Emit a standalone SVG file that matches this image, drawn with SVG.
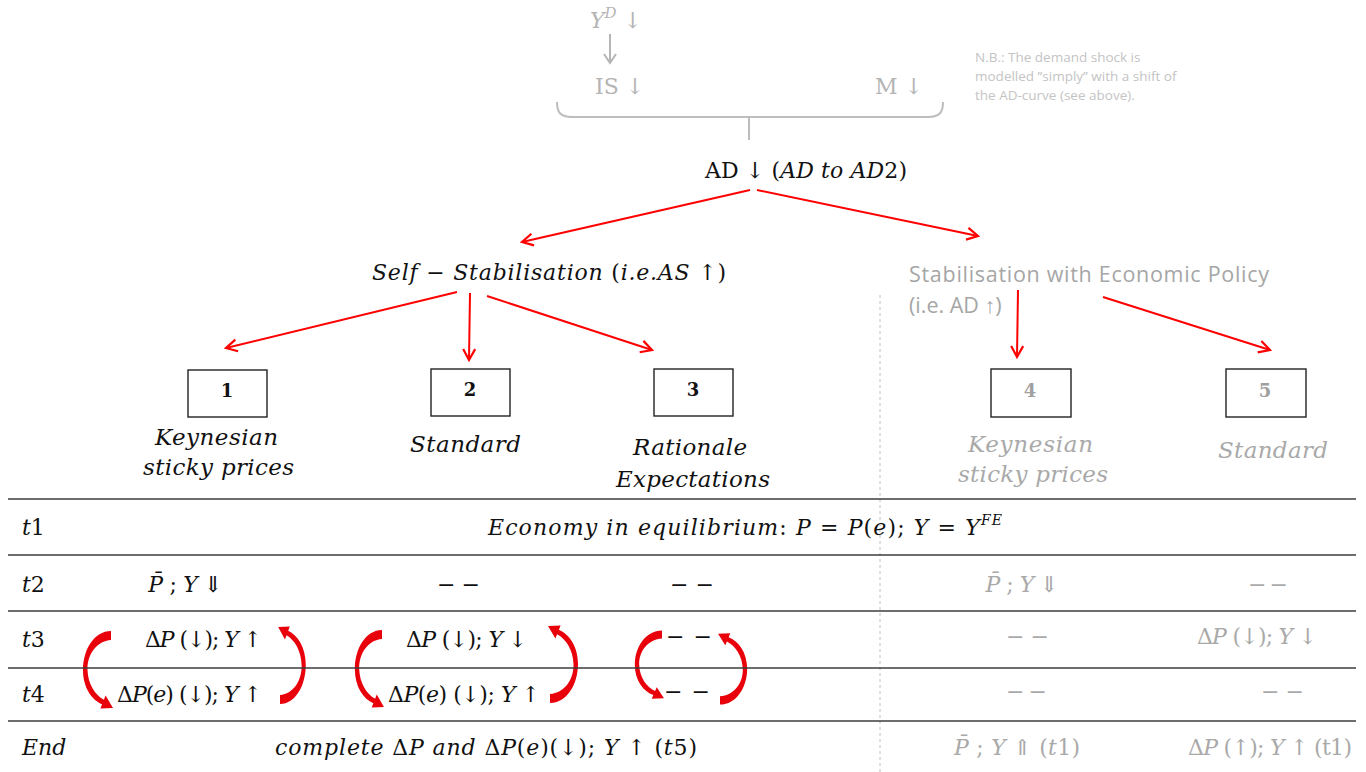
<svg xmlns="http://www.w3.org/2000/svg" width="1366" height="772" viewBox="0 0 1366 772">
<style>
  .m { font-family: "DejaVu Serif", "Liberation Serif", serif; font-size: 22px; fill: #111; }
  .i { font-style: italic; }
  .hd { font-family: "DejaVu Serif", "Liberation Serif", serif; font-style: italic; font-size: 23px; fill: #111; }
  .g { fill: #a9a9a9; }
  .num { font-family: "DejaVu Serif", "Liberation Serif", serif; font-weight: bold; font-size: 18px; fill: #111; text-anchor: middle; }
  .box { fill: #fff; stroke: #222; stroke-width: 1.4; }
  .tl { stroke: #3c3c3c; stroke-width: 1.5; }
  .red { stroke: #ff0000; stroke-width: 2; fill: none; marker-end: url(#rh); }
  .sans { font-family: "Open Sans", "Liberation Sans", sans-serif; }
</style>
<defs>
  <marker id="rh" markerUnits="userSpaceOnUse" markerWidth="16" markerHeight="16" refX="13" refY="8" orient="auto">
    <path d="M2,2 L13,8 L2,14" fill="none" stroke="#ff0000" stroke-width="2.2"/>
  </marker>
  <marker id="gh" markerUnits="userSpaceOnUse" markerWidth="16" markerHeight="16" refX="13" refY="8" orient="auto">
    <path d="M4,2 L13,8 L4,14" fill="none" stroke="#b5b5b5" stroke-width="2"/>
  </marker>
  <path id="carc" d="M0,-5 C-17,-5 -28,14 -28,34 C-28,52 -19,64 -8.9,68.3 L-10.6,72.5 L2,72 L-5.4,59.5 L-7.1,63.7 C-16,59 -23,48 -23.5,34 C-24,18 -14,5 0,4 Z" fill="#e8000b"/>
</defs>
<rect width="1366" height="772" fill="#ffffff"/>

<!-- top gray part -->
<g id="shock">
  <text class="m" x="590" y="28" font-size="23" style="fill:#b5b5b5"><tspan class="i">Y</tspan><tspan font-size="15" dy="-10" class="i">D</tspan><tspan dy="10"> ↓</tspan></text>
  <line x1="610" y1="34" x2="610" y2="63" stroke="#b5b5b5" stroke-width="2" marker-end="url(#gh)"/>
  <text class="m" x="595" y="94" font-size="23" style="fill:#b5b5b5">IS ↓</text>
  <text class="m" x="875" y="94" font-size="23" style="fill:#b5b5b5">M ↓</text>
  <path d="M557,102 C557,112 560,117 572,117 L928,117 C940,117 943,112 943,102 M749,117 L749,140" fill="none" stroke="#bdbdbd" stroke-width="2"/>
</g>
<g id="note">
  <text class="sans" font-size="13.5" fill="#c4c4c4"><tspan x="975" y="62">N.B.: The demand shock is</tspan><tspan x="975" y="81">modelled ”simply” with a shift of</tspan><tspan x="975" y="100">the AD-curve (see above).</tspan></text>
</g>

<g id="ad">
  <text class="m" x="705" y="178" font-size="23" textLength="202" lengthAdjust="spacing">AD ↓ (<tspan class="i">AD to AD</tspan>2)</text>
</g>
<g id="self">
  <text class="m" x="372" y="280" font-size="23" textLength="354" lengthAdjust="spacing"><tspan class="i">Self</tspan> − <tspan class="i">Stabilisation</tspan> (<tspan class="i">i.e.AS</tspan> ↑)</text>
</g>
<g id="policy">
  <text class="sans" font-size="21.5" fill="#a6a6a6"><tspan x="909" y="282" textLength="360" lengthAdjust="spacing">Stabilisation with Economic Policy</tspan><tspan x="909" y="313">(i.e. AD ↑)</tspan></text>
</g>

<!-- boxes -->
<g id="n1"><rect class="box" x="188" y="370" width="79" height="47"/><text class="num" x="227" y="397">1</text>
  <text class="hd" x="155" y="445" textLength="123" lengthAdjust="spacing">Keynesian</text>
  <text class="hd" x="143" y="475" textLength="151" lengthAdjust="spacing">sticky prices</text></g>
<g id="n2"><rect class="box" x="431" y="369" width="79" height="47"/><text class="num" x="470" y="396">2</text>
  <text class="hd" x="410" y="452" textLength="111" lengthAdjust="spacing">Standard</text></g>
<g id="n3"><rect class="box" x="654" y="369" width="79" height="47"/><text class="num" x="693" y="396">3</text>
  <text class="hd" x="633" y="455" textLength="114" lengthAdjust="spacing">Rationale</text>
  <text class="hd" x="616" y="487" textLength="154" lengthAdjust="spacing">Expectations</text></g>
<g id="n4"><rect class="box" x="991" y="369" width="80" height="48"/><text class="num" x="1030" y="397" style="fill:#a0a0a0">4</text>
  <text class="hd" x="968" y="452" textLength="125" lengthAdjust="spacing" style="fill:#a9a9a9">Keynesian</text>
  <text class="hd" x="958" y="482" textLength="150" lengthAdjust="spacing" style="fill:#a9a9a9">sticky prices</text></g>
<g id="n5"><rect class="box" x="1226" y="369" width="80" height="48"/><text class="num" x="1265" y="397" style="fill:#a0a0a0">5</text>
  <text class="hd" x="1218" y="458" textLength="110" lengthAdjust="spacing" style="fill:#a9a9a9">Standard</text></g>

<!-- connectors -->
<g id="connectors">
  <line class="red" x1="750" y1="190" x2="522" y2="242"/>
  <line class="red" x1="757" y1="190" x2="978" y2="236"/>
  <line class="red" x1="457" y1="292" x2="226" y2="348"/>
  <line class="red" x1="470" y1="293" x2="469" y2="360"/>
  <line class="red" x1="487" y1="296" x2="652" y2="350"/>
  <line class="red" x1="1018" y1="290" x2="1017" y2="357"/>
  <line class="red" x1="1103" y1="297" x2="1270" y2="350"/>
  <use href="#carc" transform="translate(111,636)"/>
  <use href="#carc" transform="translate(280,699) rotate(180) scale(0.92 1)"/>
  <use href="#carc" transform="translate(382,635) scale(0.97 1)"/>
  <use href="#carc" transform="translate(550,698) rotate(180)"/>
  <use href="#carc" transform="translate(662,635) scale(0.97 0.88)"/>
  <use href="#carc" transform="translate(720,700) rotate(180) scale(0.97 0.92)"/>
</g>

<!-- table -->
<g id="table">
  <line x1="880" y1="295" x2="880" y2="772" stroke="#c0c0c0" stroke-width="1" stroke-dasharray="3,3"/>
  <line class="tl" x1="8" y1="499" x2="1356" y2="499"/>
  <line class="tl" x1="8" y1="555" x2="1356" y2="555"/>
  <line class="tl" x1="8" y1="611" x2="1356" y2="611"/>
  <line class="tl" x1="8" y1="668" x2="1356" y2="668"/>
  <line class="tl" x1="8" y1="721" x2="1356" y2="721"/>

  <text class="m i" x="22" y="535">t<tspan style="font-style:normal">1</tspan></text>
  <text class="m i" x="22" y="592">t<tspan style="font-style:normal">2</tspan></text>
  <text class="m i" x="22" y="647">t<tspan style="font-style:normal">3</tspan></text>
  <text class="m i" x="22" y="702">t<tspan style="font-style:normal">4</tspan></text>
  <text class="m i" x="22" y="755">End</text>

  <text class="m" x="488" y="535" textLength="514" lengthAdjust="spacing"><tspan class="i">Economy in equilibrium</tspan>: <tspan class="i">P</tspan> = <tspan class="i">P</tspan>(<tspan class="i">e</tspan>); <tspan class="i">Y</tspan> = <tspan class="i">Y</tspan><tspan class="i" font-size="14" dy="-10">FE</tspan></text>

  <text class="m" x="148" y="592" textLength="74" lengthAdjust="spacing"><tspan class="i">P̄</tspan> ; <tspan class="i">Y</tspan> ⇓</text>
  <text class="m" x="437" y="592" textLength="43" lengthAdjust="spacing">− −</text>
  <text class="m" x="670" y="592" textLength="44" lengthAdjust="spacing">− −</text>
  <text class="m g" x="985" y="592" textLength="73" lengthAdjust="spacing"><tspan class="i">P̄</tspan> ; <tspan class="i">Y</tspan> ⇓</text>
  <text class="m g" x="1248" y="592" textLength="40" lengthAdjust="spacing">− −</text>

  <text class="m" x="145" y="647" textLength="117" lengthAdjust="spacing">Δ<tspan class="i">P</tspan> (↓); <tspan class="i">Y</tspan> ↑</text>
  <text class="m" x="406" y="647" textLength="121" lengthAdjust="spacing">Δ<tspan class="i">P</tspan> (↓); <tspan class="i">Y</tspan> ↓</text>
  <text class="m" x="666" y="644" textLength="46" lengthAdjust="spacing">− −</text>
  <text class="m g" x="1006" y="644" textLength="43" lengthAdjust="spacing">− −</text>
  <text class="m g" x="1197" y="644" textLength="120" lengthAdjust="spacing">Δ<tspan class="i">P</tspan> (↓); <tspan class="i">Y</tspan> ↓</text>

  <text class="m" x="117" y="702" textLength="145" lengthAdjust="spacing">Δ<tspan class="i">P</tspan>(<tspan class="i">e</tspan>) (↓); <tspan class="i">Y</tspan> ↑</text>
  <text class="m" x="388" y="702" textLength="152" lengthAdjust="spacing">Δ<tspan class="i">P</tspan>(<tspan class="i">e</tspan>) (↓); <tspan class="i">Y</tspan> ↑</text>
  <text class="m" x="664" y="699" textLength="46" lengthAdjust="spacing">− −</text>
  <text class="m g" x="1006" y="699" textLength="41" lengthAdjust="spacing">− −</text>
  <text class="m g" x="1261" y="699" textLength="43" lengthAdjust="spacing">− −</text>

  <text class="m" x="275" y="755" textLength="422" lengthAdjust="spacing"><tspan class="i">complete</tspan> Δ<tspan class="i">P and</tspan> Δ<tspan class="i">P</tspan>(<tspan class="i">e</tspan>)(↓); <tspan class="i">Y</tspan> ↑ (<tspan class="i">t</tspan>5)</text>
  <text class="m g" x="954" y="755" textLength="126" lengthAdjust="spacing"><tspan class="i">P̄</tspan> ; <tspan class="i">Y</tspan> ⇑ (<tspan class="i">t</tspan>1)</text>
  <text class="m g" x="1188" y="755" textLength="164" lengthAdjust="spacing">Δ<tspan class="i">P</tspan> (↑); <tspan class="i">Y</tspan> ↑ (t1)</text>
</g>
</svg>
